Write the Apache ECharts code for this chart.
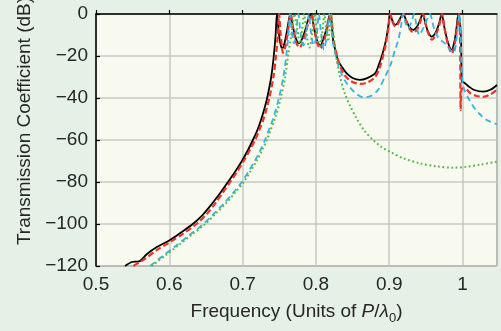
<!DOCTYPE html>
<html>
<head>
<meta charset="utf-8">
<script src="https://cdn.jsdelivr.net/npm/echarts@6/dist/echarts.min.js"></script>
<style>
html,body{margin:0;padding:0;background:#e5f1e6;}
#c{width:501px;height:331px;}
</style>
</head>
<body>
<div id="c"></div>
<script>
// ---- data (frequency in units of P/lambda0, transmission in dB) ----
const xTickValues = [0.5, 0.6, 0.7, 0.8, 0.9, 1.0];
const xTickLabels = ['0.5', '0.6', '0.7', '0.8', '0.9', '1'];
const yTickValues = [-120, -100, -80, -60, -40, -20, 0];
const yTickLabels = ['\u2212120', '\u2212100', '\u221280', '\u221260', '\u221240', '\u221220', '0'];

const blackSeries = [
  [0.5396,-120],[0.549,-118.1],[0.556,-117.9],[0.560,-117.6],[0.5696,-114.3],[0.583,-111],[0.601,-107.6],
  [0.616,-104],[0.632,-100],[0.646,-95.5],[0.659,-90],[0.670,-85],[0.680,-80],[0.690,-75],[0.699,-70],
  [0.707,-65],[0.714,-60],[0.7205,-55],[0.7255,-50],[0.7298,-45],[0.7335,-40],[0.739,-30],[0.7425,-20],
  [0.745,-10],[0.7468,0],
  [0.749,-8],[0.7515,-14],[0.7537,-16.5],[0.757,-14],[0.760,-9],[0.763,-3],[0.765,0],
  [0.768,-5],[0.772,-11],[0.7765,-14],[0.781,-12],[0.786,-7],[0.790,-2],[0.7937,0],
  [0.797,-6],[0.801,-12],[0.806,-15],[0.810,-12],[0.8145,-7],[0.8175,-2],[0.8196,0],
  [0.8215,-4],[0.8234,-12.4],[0.827,-18],[0.830,-21.9],[0.836,-25.5],[0.842,-28.3],[0.850,-30.5],
  [0.860,-31.4],[0.870,-30.5],[0.8806,-28.3],[0.886,-24],[0.891,-18.7],[0.8956,-12.4],[0.899,-5],[0.901,0],
  [0.903,-2],[0.906,-4.5],[0.908,-5.2],[0.911,-4.5],[0.915,-2],[0.919,0],
  [0.923,-3],[0.928,-6.5],[0.933,-7.6],[0.938,-6],[0.942,-3],[0.9456,0],
  [0.949,-4],[0.953,-8.5],[0.958,-10.8],[0.963,-9],[0.968,-4.5],[0.9715,0],
  [0.975,-6],[0.980,-13.5],[0.985,-17.1],[0.989,-13],[0.992,-6],[0.9943,0],
  [0.9965,-4],[0.998,-14],[0.999,-32.2],[1.002,-32.6],[1.008,-34.4],[1.016,-36.2],[1.0285,-37],[1.038,-36.1],[1.047,-33.8]
];

const redSeries = [
  [0.551,-120],[0.565,-117],[0.583,-112.4],[0.600,-108.8],[0.618,-104.8],[0.637,-100],[0.651,-95.3],
  [0.663,-90],[0.673,-85],[0.683,-80],[0.6925,-75],[0.7015,-70],[0.7095,-65],[0.717,-60],[0.723,-55],
  [0.7285,-50],[0.7327,-45],[0.7365,-40],[0.742,-30],[0.7455,-20],[0.748,-10],[0.7498,0],
  [0.7515,-8],[0.7535,-15.5],[0.755,-18.5],[0.758,-16],[0.761,-10],[0.7635,-4],[0.7655,0],
  [0.769,-7],[0.773,-13.5],[0.7775,-16],[0.782,-13.5],[0.787,-7.5],[0.791,-2.5],[0.794,0],
  [0.7975,-7],[0.8015,-13.5],[0.806,-16.5],[0.8105,-13.5],[0.815,-7.5],[0.818,-2.5],[0.8203,0],
  [0.822,-5],[0.8245,-13],[0.8285,-19.5],[0.832,-24],[0.838,-28.5],[0.845,-31.3],[0.853,-32.8],
  [0.861,-33.3],[0.870,-32.6],[0.880,-30.3],[0.886,-26.5],[0.891,-20.8],[0.8955,-14],[0.899,-6.5],[0.9015,0],
  [0.9035,-2.5],[0.9065,-5.3],[0.9085,-6],[0.9115,-5],[0.9155,-2.2],[0.9195,0],
  [0.9235,-3.5],[0.9285,-7.5],[0.9335,-8.8],[0.9385,-7],[0.9425,-3.5],[0.946,0],
  [0.9495,-4.5],[0.9535,-9.5],[0.9585,-12.2],[0.9635,-10],[0.9685,-5],[0.972,0],
  [0.9755,-7],[0.9805,-15],[0.9855,-18.8],[0.9895,-14],[0.9925,-6.5],[0.995,0],
  [0.9965,-10],[0.9975,-45.7],[0.9985,-36],[1.0034,-35.4],[1.010,-37.5],[1.018,-38.9],[1.0284,-39.4],
  [1.038,-38.3],[1.047,-36]
];

const cyanSeries = [
  [0.5737,-120],[0.592,-115],[0.6105,-110],[0.6285,-105],[0.6464,-100],[0.661,-95],[0.675,-90],
  [0.6875,-85],[0.699,-80],[0.708,-75],[0.7165,-70],[0.724,-65],[0.7305,-60],[0.736,-55],[0.7415,-50],
  [0.7495,-40],[0.7555,-30],[0.7595,-20],[0.7625,-10],[0.7645,0],
  [0.767,-8],[0.770,-14],[0.773,-8],[0.776,0],[0.779,-9],[0.783,-15],[0.787,-9],[0.7905,0],
  [0.793,-8],[0.797,-15],[0.801,-10],[0.804,0],[0.807,-9],[0.811,-17],[0.815,-10],[0.8185,0],
  [0.8205,-5],[0.823,-13],[0.8283,-21.9],[0.835,-28.5],[0.842,-33],[0.852,-37],[0.8647,-39.7],
  [0.875,-39],[0.885,-36],[0.894,-30],[0.902,-24],[0.908,-17],[0.9124,-12.4],[0.916,-6],[0.919,0],
  [0.922,-4],[0.926,-6.8],[0.930,-4],[0.934,0],[0.937,-5],[0.941,-10],[0.946,-7],[0.951,-3],[0.9557,0],
  [0.959,-4],[0.963,-9],[0.969,-12],[0.976,-14],[0.983,-17],[0.988,-18.5],[0.991,-14],[0.9935,-6],[0.9955,0],
  [0.9975,-10],[0.999,-28],[1.001,-34.6],[1.007,-39.5],[1.0147,-44],[1.023,-47.5],[1.033,-50.5],[1.047,-52.5]
];

const greenSeries = [
  [0.576,-120],[0.5945,-115],[0.613,-110],[0.631,-105],[0.649,-100],[0.6635,-95],[0.6775,-90],
  [0.690,-85],[0.7015,-80],[0.7105,-75],[0.719,-70],[0.7265,-65],[0.733,-60],[0.7385,-55],[0.744,-50],
  [0.752,-40],[0.758,-30],[0.762,-20],[0.765,-13],[0.768,-6],[0.7705,0],
  [0.775,-8],[0.778,-14],[0.781,-8],[0.784,0],[0.787,-9],[0.791,-16],[0.795,-9],[0.798,0],
  [0.801,-8],[0.805,-15],[0.809,-8],[0.8115,0],[0.814,-7],[0.8165,-13],[0.819,-6],[0.8205,0],
  [0.8234,-8],[0.8275,-20],[0.833,-30],[0.8395,-38],[0.847,-44],[0.856,-50],[0.866,-55.5],[0.878,-60],
  [0.890,-63.5],[0.901,-65.6],[0.920,-68.8],[0.942,-71.1],[0.965,-72.6],[0.9875,-73.2],[1.005,-72.8],
  [1.025,-71.7],[1.047,-70.3]
];

// ---- chart ----
const FONT = 'Liberation Sans, Arial, Helvetica, sans-serif';
const TXT = '#262626';
function lbl(values, labels) {
  return function (v) {
    for (let i = 0; i < values.length; i++) if (Math.abs(values[i] - v) < 1e-6) return labels[i];
    return '';
  };
}
const chart = echarts.init(document.getElementById('c'), null, {renderer: 'canvas'});
function lineSeries(data, color, width, type, z) {
  return {
    type: 'line', data: data, showSymbol: false, symbol: 'none', smooth: 0.3, z: z,
    lineStyle: {color: color, width: width, type: type}, animation: false, clip: true
  };
}
chart.setOption({
  backgroundColor: '#e5f1e6',
  animation: false,
  grid: {left: 96, right: 4, top: 14, bottom: 65, show: true, backgroundColor: '#f8f9ef',
         borderColor: '#3a3a3a', borderWidth: 1, containLabel: false, outerBoundsMode: 'none'},
  xAxis: {
    type: 'value', min: 0.5, max: 1.047, interval: 0.1,
    axisLine: {show: true, lineStyle: {color: '#000', width: 1.5}},
    axisTick: {show: true, inside: true, length: 4, lineStyle: {color: '#000', width: 1.2}},
    splitLine: {show: true, lineStyle: {color: '#c9c9c3', width: 1.5}},
    axisLabel: {formatter: lbl(xTickValues, xTickLabels), showMaxLabel: false, fontSize: 19,
                fontFamily: FONT, color: TXT, margin: 9},
    name: '{t|Frequency (Units of }{i|P}{t|/}{i|\u03bb}{s|0}{t|)}',
    nameLocation: 'middle', nameGap: 33,
    nameTextStyle: {
      fontFamily: FONT, color: TXT, fontSize: 19,
      rich: {
        t: {fontSize: 19, fontFamily: FONT, color: TXT, lineHeight: 26},
        i: {fontSize: 19, fontFamily: FONT, color: TXT, fontStyle: 'italic', lineHeight: 26},
        s: {fontSize: 13, fontFamily: FONT, color: TXT, verticalAlign: 'bottom'}
      }
    }
  },
  yAxis: {
    type: 'value', min: -120, max: 0, interval: 20,
    axisLine: {show: true, lineStyle: {color: '#000', width: 1.5}},
    axisTick: {show: true, inside: true, length: 4, lineStyle: {color: '#000', width: 1.2}},
    splitLine: {show: true, lineStyle: {color: '#c9c9c3', width: 1.5}},
    axisLabel: {formatter: lbl(yTickValues, yTickLabels), fontSize: 19, fontFamily: FONT, color: TXT, margin: 8}
  },
  graphic: [{
    type: 'text', x: 25, y: 121, rotation: Math.PI / 2,
    style: {text: 'Transmission Coefficient (dB)', font: '19px ' + FONT, fill: TXT,
            align: 'center', verticalAlign: 'middle'}
  }],
  series: [
    lineSeries(blackSeries, '#000000', 1.8, 'solid', 2),
    lineSeries(redSeries, '#e8342a', 2.2, [6, 3], 3),
    lineSeries(cyanSeries, '#35b3e2', 1.8, [6, 4], 4),
    lineSeries(greenSeries, '#55b848', 2, [1.8, 2.6], 5)
  ]
});
</script>
</body>
</html>
